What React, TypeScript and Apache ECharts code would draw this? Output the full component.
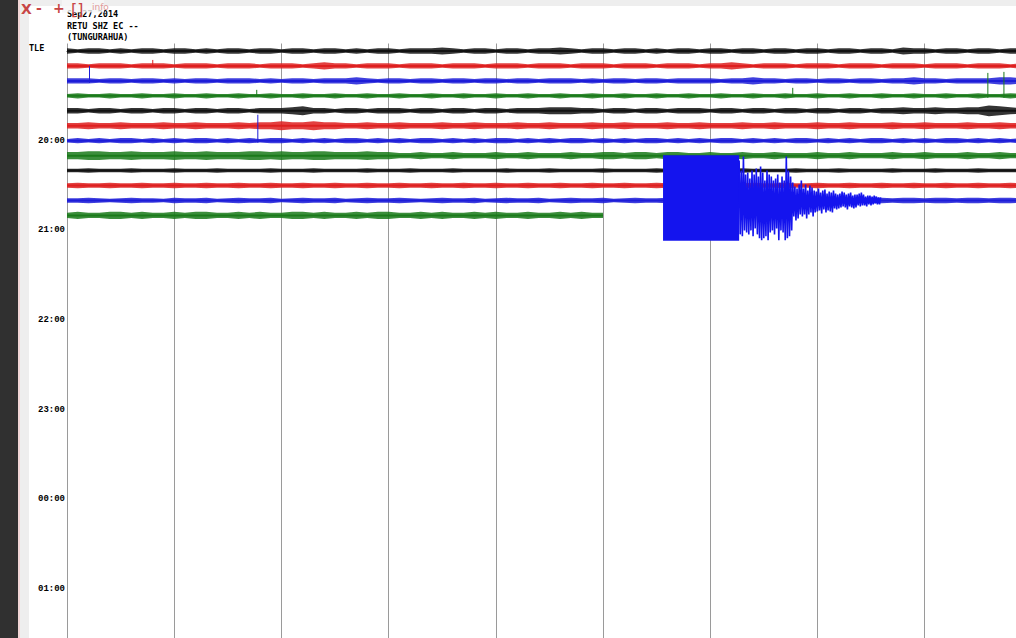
import React, { useEffect, useRef } from "react";
import * as echarts from "echarts";

// ---- data ----
const HEADER_LINES = ["Sep27,2014", "RETU SHZ EC --", "(TUNGURAHUA)"];
const STATION_LABEL = "TLE";
const HOUR_TICKS = [90, 180, 270, 360, 450, 540];
const HOUR_LABELS = ["20:00", "21:00", "22:00", "23:00", "00:00", "01:00"];
const ROW_SPACING = 15; // counts between traces
const SAMPLE_STEP = 0.1; // minutes between envelope samples
const MINUTES_PER_ROW = 10;

// half-amplitude envelopes of each 10-minute trace (counts), sampled every 0.1 min
const row0 = [3,2,3,3,2,3,2,3,3,2, 3,3,2,3,2,3,3,2,3,3, 2,3,3,2,3,3,2,3,2,3, 3,2,3,3,3,4,3,2,3,3, 2,3,3,2,3,3,4,3,2,3, 3,2,3,3,2,3,2,3,3,2, 3,3,2,3,3,2,3,3,2,3, 3,2,3,3,2,3,3,2,4,3, 3,2,3,3,2,3,3,2,3,3];
const row1 = [3,3,2,3,3,3,2,3,3,3, 2,3,3,3,2,3,3,3,2,3, 3,3,2,3,4,3,3,2,3,3, 3,2,3,3,3,2,3,3,3,2, 3,3,3,2,3,3,3,2,3,3, 3,2,3,3,3,2,3,3,3,2, 3,3,4,3,2,3,3,3,2,3, 3,3,2,3,3,3,2,3,3,3, 2,3,3,3,2,3,3,3,2,3];
const row2 = [3,3,3,2,3,3,2,3,3,2, 3,2,3,3,2,3,3,3,2,3, 2,3,3,2,3,3,3,4,3,2, 3,3,2,3,3,2,3,3,2,3, 3,2,3,3,2,3,3,3,2,3, 2,3,3,2,3,3,2,3,3,3, 3,2,3,3,4,3,3,2,3,3, 2,3,3,2,3,3,2,3,3,4, 3,3,2,3,3,3,3,4,4,3];
const row3 = [2,3,2,2,3,2,2,3,2,2, 3,2,2,3,2,2,3,2,2,3, 2,2,3,2,2,3,2,2,3,2, 2,3,2,2,3,2,2,3,2,2, 3,2,2,3,2,2,3,2,2,3, 2,2,3,2,2,3,2,2,3,2, 2,3,2,2,3,2,2,3,2,2, 3,2,2,3,2,2,3,2,2,3, 2,2,3,2,2,3,2,2,3,2];
const row4 = [3,3,2,3,3,2,3,3,2,3, 3,2,3,3,2,3,3,2,3,3, 3,4,5,3,3,2,3,3,2,3, 3,3,2,3,3,2,3,3,2,3, 3,2,3,3,3,4,4,4,3,3, 2,3,3,2,3,3,2,3,3,3, 2,3,3,2,3,3,2,3,3,2, 3,3,2,3,3,2,3,3,4,3, 3,4,3,3,4,4,6,5,4,3];
const row5 = [3,3,4,3,3,4,3,3,3,4, 3,3,4,3,3,3,4,3,4,4, 5,4,4,5,4,4,3,3,4,3, 3,4,3,3,3,4,3,3,4,3, 3,3,4,3,3,4,3,3,3,4, 3,3,4,3,3,3,4,3,3,4, 3,3,3,4,3,3,4,3,3,3, 4,3,3,4,3,3,3,4,3,3, 4,3,3,3,4,3,3,4,3,3];
const row6 = [2,3,2,3,2,3,3,2,3,2, 3,2,3,3,2,3,2,3,2,3, 3,2,3,2,3,2,3,3,2,3, 2,3,2,3,3,2,3,2,3,2, 3,3,2,3,2,3,2,3,3,2, 3,2,3,2,3,3,2,3,2,3, 2,3,3,2,3,2,3,2,3,3, 2,3,2,3,2,3,3,2,3,2, 3,2,3,3,2,3,2,3,2,3];
const row7 = [4,4,5,5,4,4,5,4,4,4, 5,4,4,5,4,4,4,5,5,4, 5,4,4,5,5,4,4,4,5,4, 4,3,3,4,3,3,4,3,3,3, 4,3,3,4,3,3,3,4,3,3, 4,4,3,4,4,3,4,4,3,3, 4,3,3,4,3,3,4,3,3,3, 4,3,3,4,3,3,3,4,3,3, 4,3,3,3,4,3,3,4,3,3];
const row8 = [2,2,2.5,2,2,2,2.5,2,2,2, 2.5,2,2,2,2.5,2,2,2,2,2.5, 2,2,2,2.5,2,2,2,2,2.5,2, 2,2,2.5,2,2,2,2.5,2,2,2, 2,2.5,2,2,2,2.5,2,2,2,2, 2.5,2,2,2,2,2.5,2,2,2,2.5, 2,2,2,2.5,2,2,2,2,2.5,2, 2,2,2.5,2,2,2,2,2.5,2,2, 2,2.5,2,2,2,2.5,2,2,2,2];
const row9 = [2.5,3,2.5,2.5,3,2.5,2.5,3,2.5,2.5, 3,2.5,2.5,3,2.5,2.5,3,2.5,2.5,3, 2.5,2.5,3,2.5,2.5,3,2.5,2.5,3,2.5, 2.5,3,2.5,2.5,3,2.5,2.5,3,2.5,2.5, 3,2.5,2.5,3,2.5,2.5,3,2.5,2.5,3, 2.5,2.5,3,2.5,2.5,3,2.5,2.5,3,2.5, 2.5,3,2.5,2.5,3,2.5,2.5,3,2.5,2.5, 3,2.5,2.5,3,2.5,2.5,3,2.5,2.5,3, 2.5,2.5,3,2.5,2.5,3,2.5,2.5,3,2.5];
const row10 = [2.5,2.5,3,2.5,2,2.5,3,2.5,2.5,2, 3,2.5,2.5,3,2,2.5,3,2.5,2.5,3, 2,2.5,3,2.5,2.5,3,2,2.5,3,2.5, 2.5,3,2.5,2,2.5,3,2.5,2.5,3,2, 2.5,3,2.5,2.5,3,2,2.5,3,2.5,2.5, 3,2,2.5,3,2.5,2.5,3,2.5,3,2.5, 3,3,2.5,3,3,2.5,3,3,2.5,3, 3,2.5,3,3,2.5,3,3,2.5,3,3, 2.5,3,3,2.5,3,3,2.5,3,3,2.5];
const row11 = [3,4,3,3,4,4,3,4,3,3, 4,3,4,4,3,3,4,3,4,3, 3,4,4,3,4,3,3,4,3,4, 4,3,3,4,3,4,3,3,4,3, 4,3,3,4,3,3,4,3,4,3, 3];
const ROW_AMPS = [row0, row1, row2, row3, row4, row5, row6, row7, row8, row9, row10, row11];

// isolated spikes: [minute, row, up (counts), down (counts)]
const SPIKES = [
  [0.21, 2, 15, 2],
  [0.80, 1, 6, 1],
  [1.77, 3, 6, 1],
  [1.78, 6, 26, 2],
  [6.77, 3, 8, 1],
  [8.59, 3, 23, 2],
  [8.74, 3, 24, 2],
];

// the saturated (clipped) part of the earthquake on row 10: [start min, end min, up, down]
const EVENT_ROW = 10;
const EVENT_CLIPPED = [[5.56, 6.27, 45.5, 40.5]];
// coda peaks after the clipped part (counts, + is up), one every 0.01 min
const CODA_START = 6.27;
const CODA_STEP = 0.01;
const codaPeaks = [
  40,-34,30,-36,44,-30,26,-32,28,-34,22,-30,30,-36,26,-28,32,-34,24,-38,
  34,-40,28,-38,20,-36,30,-40,26,-32,24,-30,20,-34,22,-28,26,-40,18,-30,
  24,-32,20,-40,44,-38,30,-36,24,-30,18,-16,14,-20,12,-18,16,-14,20,-16,
  12,-14,16,-18,10,-14,15,-12,13,-16,10,-12,9,-11,12,-10,8,-13,10,-9,
  11,-12,7,-10,9,-11,8,-12,10,-8,7,-9,6,-8,7,-7,9,-6,8,-7,
  6,-9,7,-6,8,-7,5,-8,6,-7,6,-5,7,-6,8,-5,6,-5,4,-6,
  5,-4,5,-5,4,-4,5,-3,4,-4,3,-4,3
];

const ROW_COLORS = ["#111111", "#de1f1f", "#1c1cd8", "#1a7a1a"];
const EVENT_COLOR = "#1414ee";
const DISPLAY_GAIN = 0.9; // helicorder display gain for the background noise traces

function buildOption() {
  const rowSeries = ROW_AMPS.map((amps, r) => ({
    type: "custom",
    coordinateSystem: "cartesian2d",
    clip: true,
    silent: true,
    z: 2,
    data: [[0, r * ROW_SPACING]],
    renderItem: (_params: any, api: any) => {
      const c = r * ROW_SPACING;
      const col = ROW_COLORS[r % 4];
      const top = amps.map((a, i) => api.coord([i * SAMPLE_STEP, c - a * DISPLAY_GAIN]));
      const bot = amps.map((a, i) => api.coord([i * SAMPLE_STEP, c + a * DISPLAY_GAIN])).reverse();
      const end = (amps.length - 1) * SAMPLE_STEP;
      const p0 = api.coord([0, c]);
      const p1 = api.coord([end, c]);
      return {
        type: "group",
        children: [
          { type: "polygon", shape: { points: top.concat(bot) }, style: { fill: col, opacity: 0.85 } },
          { type: "line", shape: { x1: p0[0], y1: p0[1], x2: p1[0], y2: p1[1] }, style: { stroke: col, lineWidth: 2 } },
        ],
      };
    },
  }));

  const spikeSeries = {
    type: "custom",
    coordinateSystem: "cartesian2d",
    clip: true,
    silent: true,
    z: 3,
    data: SPIKES,
    renderItem: (_params: any, api: any) => {
      const m = api.value(0);
      const r = api.value(1);
      const c = r * ROW_SPACING;
      const p1 = api.coord([m, c - api.value(2)]);
      const p2 = api.coord([m, c + api.value(3)]);
      return {
        type: "line",
        shape: { x1: p1[0], y1: p1[1], x2: p2[0], y2: p2[1] },
        style: { stroke: ROW_COLORS[r % 4], lineWidth: 1 },
      };
    },
  };

  const clippedSeries = {
    type: "custom",
    coordinateSystem: "cartesian2d",
    clip: true,
    silent: true,
    z: 4,
    data: EVENT_CLIPPED,
    renderItem: (_params: any, api: any) => {
      const c = EVENT_ROW * ROW_SPACING;
      const s = api.value(0);
      const e = api.value(1);
      const pts = [
        api.coord([s, c - api.value(2)]),
        api.coord([e, c - api.value(2)]),
        api.coord([e, c + api.value(3)]),
        api.coord([s, c + api.value(3)]),
      ];
      return { type: "polygon", shape: { points: pts }, style: { fill: EVENT_COLOR } };
    },
  };

  const codaSeries = {
    type: "line",
    silent: true,
    z: 4,
    showSymbol: false,
    symbol: "none",
    lineStyle: { color: EVENT_COLOR, width: 1.6 },
    data: codaPeaks.map((v, i) => [CODA_START + i * CODA_STEP, EVENT_ROW * ROW_SPACING - v]),
  };

  const mono = "DejaVu Sans Mono";
  return {
    animation: false,
    backgroundColor: "#ffffff",
    grid: { left: 67, top: 43.5, width: 1072, height: 598 },
    xAxis: {
      type: "value",
      position: "top",
      min: 0,
      max: MINUTES_PER_ROW,
      interval: 1,
      axisLine: { show: true, lineStyle: { color: "#333", width: 1 } },
      axisTick: { show: false },
      axisLabel: { show: false },
      splitLine: { show: true, lineStyle: { color: "#9a9a9a", width: 1 } },
    },
    yAxis: {
      type: "value",
      inverse: true,
      min: -ROW_SPACING / 2,
      max: 39.5 * ROW_SPACING,
      axisLine: { show: false },
      axisTick: { show: false },
      splitLine: { show: false },
      axisLabel: {
        customValues: HOUR_TICKS,
        formatter: (v: number) => {
          const k = HOUR_TICKS.indexOf(v);
          return k >= 0 ? HOUR_LABELS[k] : "";
        },
        fontFamily: "Liberation Mono",
        fontWeight: "bold",
        fontSize: 9,
        color: "#000",
        margin: 2,
      },
    },
    graphic: [
      { type: "rect", shape: { x: 0, y: 0, width: 18, height: 645 }, style: { fill: "#303030" }, z: 10 },
      { type: "rect", shape: { x: 18, y: 0, width: 2, height: 645 }, style: { fill: "#f2d6d6" }, z: 10 },
      { type: "rect", shape: { x: 20, y: 0, width: 9, height: 645 }, style: { fill: "#eeeeee" }, z: 10 },
      { type: "rect", shape: { x: 29, y: 0, width: 1120, height: 6 }, style: { fill: "#eeeeee" }, z: 10 },
      {
        type: "text", x: 67, y: 14, z: 11,
        style: { text: HEADER_LINES[0], font: `bold 8.5px "${mono}"`, fill: "#000", verticalAlign: "middle" },
      },
      {
        type: "text", x: 67, y: 26, z: 11,
        style: { text: HEADER_LINES[1], font: `bold 8.5px "${mono}"`, fill: "#000", verticalAlign: "middle" },
      },
      {
        type: "text", x: 67, y: 37, z: 11,
        style: { text: HEADER_LINES[2], font: `bold 8.5px "${mono}"`, fill: "#000", verticalAlign: "middle" },
      },
      {
        type: "text", x: 29, y: 48, z: 11,
        style: { text: STATION_LABEL, font: `bold 8.5px "${mono}"`, fill: "#000", verticalAlign: "middle" },
      },
      // semi-transparent overlay panel of the viewer controls
      { type: "rect", shape: { x: 62, y: 0, width: 42, height: 12.5 }, style: { fill: "#f6f6f6", opacity: 0.82 }, z: 12 },
      { type: "text", x: 21, y: 9, z: 13, style: { text: "X", font: 'bold 14px "DejaVu Sans"', fill: "#c84646", verticalAlign: "middle" } },
      { type: "text", x: 36, y: 8, z: 13, style: { text: "-", font: 'bold 14px "DejaVu Sans"', fill: "#c84646", verticalAlign: "middle" } },
      { type: "text", x: 53, y: 8, z: 13, style: { text: "+", font: 'bold 14px "DejaVu Sans"', fill: "#c84646", verticalAlign: "middle" } },
      { type: "text", x: 71, y: 9, z: 13, style: { text: "[]", font: '16px "DejaVu Sans"', fill: "#c84646", verticalAlign: "middle" } },
      { type: "text", x: 92, y: 7, z: 13, style: { text: "info", font: '9px "DejaVu Sans"', fill: "#e09a9a", verticalAlign: "middle" } },
    ],
    series: [...rowSeries, spikeSeries, clippedSeries, codaSeries],
  };
}

export default function App() {
  const ref = useRef<HTMLDivElement>(null);
  useEffect(() => {
    if (!ref.current) return;
    const chart = echarts.init(ref.current, null, { renderer: "svg" });
    chart.setOption(buildOption() as any);
    return () => chart.dispose();
  }, []);
  return (
    <div style={{ position: "fixed", left: 0, top: 0, width: 1016, height: 638, overflow: "hidden", background: "#fff" }}>
      <div ref={ref} style={{ width: 1145, height: 645 }} />
    </div>
  );
}
